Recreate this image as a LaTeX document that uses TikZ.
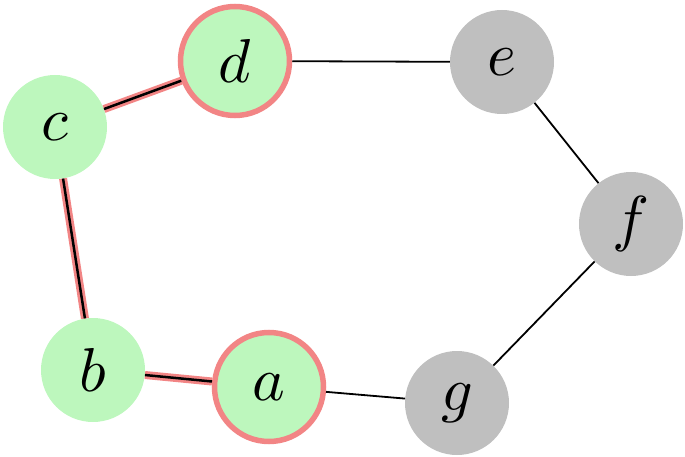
\documentclass[tikz,border=0pt]{standalone}
\usepackage{graphicx}
\newcommand{\vl}[1]{\scalebox{6.2}{$#1$}}
\begin{document}
\begin{tikzpicture}[x=1pt,y=-1pt,
  vtx/.style={circle,minimum size=104pt,inner sep=0pt},
  sel/.style={vtx,fill=selgreen},
  selb/.style={vtx,fill=selgreen,draw=selred,line width=5.5pt,minimum size=109pt},
  unsel/.style={vtx,fill=gray!50},
  thin/.style={line width=1.8pt,black},
  hl/.style={line width=8pt,selred},
  hlc/.style={line width=2.5pt,black}]
\definecolor{selgreen}{HTML}{BDF7BD}
\definecolor{selred}{HTML}{F28585}
\useasboundingbox (0,0) rectangle (685,457);
\node[selb] (d) at (235,61) {\vl{d}};
\node[unsel] (e) at (502,62) {\vl{e}};
\node[sel] (c) at (55,127) {\vl{c}};
\node[unsel] (f) at (631,224) {\vl{f}};
\node[sel] (b) at (93,370) {\vl{b}};
\node[selb] (a) at (269,387) {\vl{a}};
\node[unsel] (g) at (457,403) {\vl{g}};
\draw[thin] (d) -- (e);
\draw[thin] (e) -- (f);
\draw[thin] (f) -- (g);
\draw[thin] (g) -- (a);
\draw[hl] (c) -- (d);
\draw[hl] (c) -- (b);
\draw[hl] (b) -- (a);
\draw[hlc] (c) -- (d);
\draw[hlc] (c) -- (b);
\draw[hlc] (b) -- (a);
\end{tikzpicture}
\end{document}
